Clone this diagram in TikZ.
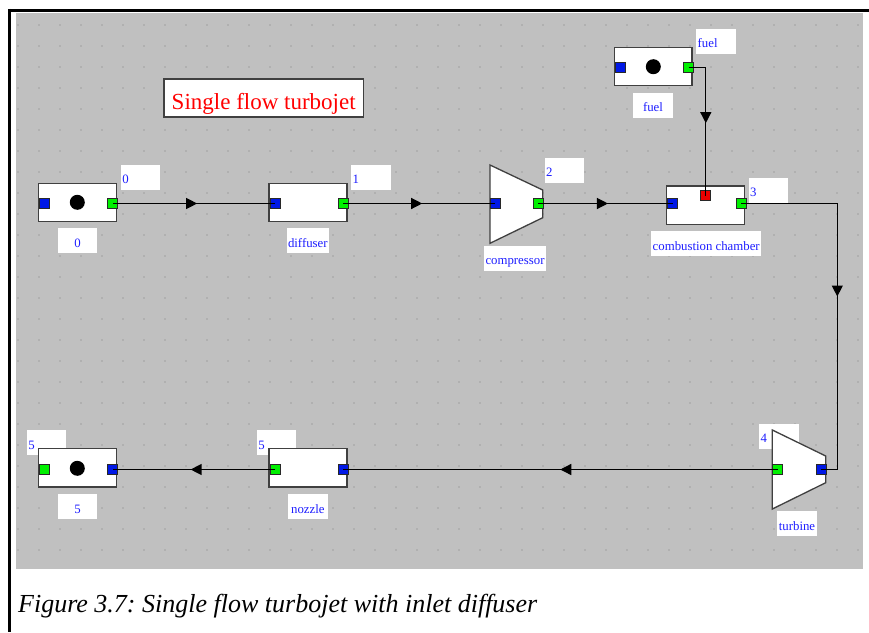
\documentclass[tikz,border=0pt]{standalone}
\usepackage{fontspec}
\setmainfont{Liberation Serif}
\usetikzlibrary{arrows.meta,decorations.markings,calc}
\frenchspacing

\definecolor{canvasgray}{RGB}{192,192,192}
\definecolor{griddot}{RGB}{176,176,176}
\definecolor{edgegray}{RGB}{64,64,64}
\definecolor{portedge}{RGB}{40,40,40}
\definecolor{portblue}{RGB}{0,24,230}
\definecolor{portgreen}{RGB}{0,240,0}
\definecolor{portred}{RGB}{235,0,0}
\definecolor{labelblue}{RGB}{30,30,255}
\definecolor{titlered}{RGB}{255,0,0}

\tikzset{
  frameline/.style={line width=3pt, black},
  blockbox/.style={draw=edgegray, fill=white, line width=1.3pt, inner sep=0pt,
    minimum width=78pt, minimum height=38.4pt},
  outline/.style={draw=edgegray, fill=white, line width=1.3pt, line join=miter},
  unit/.style={inner sep=0pt, outer sep=0pt},
  port/.style={draw=portedge, line width=0.9pt, minimum size=10pt, inner sep=0pt},
  inport/.style={port, fill=portblue},
  outport/.style={port, fill=portgreen},
  fuelport/.style={port, fill=portred},
  hub/.style={circle, fill=black, minimum size=15pt, inner sep=0pt},
  tagbox/.style={fill=white, inner xsep=1.5pt, inner ysep=0pt, minimum width=39.5pt,
    minimum height=25pt, text height=14pt, text depth=1pt, text=labelblue,
    font=\fontsize{12.8}{14}\selectfont},
  statetag/.style={tagbox, anchor=north west, text width=36.5pt, align=left},
  nametag/.style={tagbox},
  conn/.style={line width=1.3pt, black},
  flowmark/.style={postaction={decorate}, decoration={markings,
    mark=at position #1 with {\arrow{Triangle[length=11pt,width=11pt]}}}},
  flowmark/.default=0.5,
}

\begin{document}
\begin{tikzpicture}[x=1pt, y=-1pt]
\useasboundingbox (0,0) rectangle (869,632);

% page frame and drawing canvas
\fill[white] (0,0) rectangle (869,632);
\fill[canvasgray] (16,13.3) rectangle (863,569);
\draw[frameline] (8,10.3) -- (869,10.3);
\draw[frameline] (9.5,8.8) -- (9.5,632);

% snap grid
\begin{scope}
  \clip (16,13.3) rectangle (863,569);
  \foreach \i in {0,...,40}
    \foreach \j in {0,...,26}
      \fill[griddot] (17.3+21*\i, 24.3+21*\j) rectangle ++(2,2);
\end{scope}

% title
\node[draw=edgegray, line width=1.5pt, fill=white, minimum width=199.3pt,
  minimum height=37.7pt, inner sep=0pt, text=titlered, text height=24pt, text depth=0pt,
  font=\fontsize{23}{26}\selectfont] (title) at (263.7,97.9) {Single flow turbojet};

% state labels (drawn beneath the components)
\node[statetag] (t0) at (120.7,164.3) {0};
\node[statetag] (t1) at (351,164.3) {1};
\node[statetag] (t2) at (544.3,157.3) {2};
\node[statetag] (tfuel) at (696,28.3) {fuel};
\node[statetag] (t3) at (748.3,177.3) {3};
\node[statetag] (t4) at (759,423.3) {4};
\node[statetag] (t5n) at (256.7,430) {5};
\node[statetag] (t5s) at (26.7,430) {5};

% component names
\node[nametag] (n0) at (77.5,240.8) {0};
\node[nametag] (ndf) at (307.8,240.7) {diffuser};
\node[nametag] (ncp) at (515,258.2) {compressor};
\node[nametag] (nfu) at (653,105.2) {fuel};
\node[nametag] (ncc) at (706.2,243.8) {combustion chamber};
\node[nametag] (ntb) at (797,523.5) {turbine};
\node[nametag] (nnz) at (307.8,506.5) {nozzle};
\node[nametag] (n5) at (77.5,506.5) {5};

% inlet source 0
\node[blockbox] (src) at (77.5,202.5) {};
\node[hub] (srchub) at (77.3,202.3) {};
\node[inport] (srcin) at (44.7,203.5) {};
\node[outport] (srcout) at (112.8,203.5) {};

% diffuser
\node[blockbox] (dif) at (307.9,202.5) {};
\node[inport] (difin) at (275,203.5) {};
\node[outport] (difout) at (343,203.5) {};

% compressor
\node[unit, minimum width=52.7pt, minimum height=78.3pt] (cmp) at (516.35,204.15) {};
\draw[outline] (cmp.north west) -- ([yshift=-25pt]cmp.north east)
  -- ([yshift=25.6pt]cmp.south east) -- (cmp.south west) -- cycle;
\node[inport] (cmpin) at (495.3,203.5) {};
\node[outport] (cmpout) at (538,203.5) {};

% fuel source
\node[blockbox, minimum width=77.7pt, minimum height=38pt] (fsrc) at (653.2,66.3) {};
\node[hub] (fhub) at (653.3,66.7) {};
\node[inport] (fin) at (620.3,67.7) {};
\node[outport] (fout) at (688.5,67.7) {};

% combustion chamber
\node[blockbox, minimum width=77.6pt, minimum height=38.3pt] (cc) at (705.5,205.2) {};
\node[inport] (ccin) at (672.5,203.5) {};
\node[outport] (ccout) at (741,203.5) {};
\node[fuelport] (ccfuel) at (705.8,195.8) {};

% turbine
\node[unit, minimum width=53.4pt, minimum height=79pt] (trb) at (799,469.5) {};
\draw[outline] (trb.north west) -- ([yshift=-26pt]trb.north east)
  -- ([yshift=26.3pt]trb.south east) -- (trb.south west) -- cycle;
\node[outport] (trbout) at (777.5,469.5) {};
\node[inport] (trbin) at (821,469.5) {};

% nozzle
\node[blockbox] (noz) at (307.9,467.9) {};
\node[outport] (nozout) at (275,469.5) {};
\node[inport] (nozin) at (343,469.5) {};

% exit sink 5
\node[blockbox] (snk) at (77.5,467.9) {};
\node[hub] (snkhub) at (77.3,468.3) {};
\node[outport] (snkout) at (44.7,469.5) {};
\node[inport] (snkin) at (112.7,469.5) {};

% flow connections
\coordinate (bend) at (837.3,300);
\draw[conn, flowmark=0.52] (srcout.center) -- (difin.center);
\draw[conn, flowmark=0.52] (difout.center) -- (cmpin.center);
\draw[conn, flowmark=0.52] (cmpout.center) -- (ccin.center);
\draw[conn, flowmark] (fout.center) -| (ccfuel.center);
\draw[conn, flowmark] (ccout.center) -- (ccout.center -| bend)
  -- (trbin.center -| bend) -- (trbin.center);
\draw[conn, flowmark] (trbout.center) -- (nozin.center);
\draw[conn, flowmark=0.52] (nozout.center) -- (snkin.center);

% caption
\node[anchor=base west, inner sep=0pt, font=\fontsize{26}{30}\selectfont\itshape]
  (caption) at (18,612) {Figure 3.7: Single flow turbojet with inlet diffuser};
\end{tikzpicture}
\end{document}
